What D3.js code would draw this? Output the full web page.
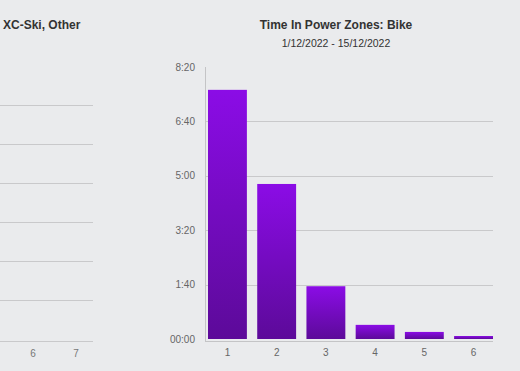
<!DOCTYPE html>
<html>
<head>
<meta charset="utf-8">
<script src="https://cdn.jsdelivr.net/npm/d3@7"></script>
<style>
  html, body { margin: 0; padding: 0; background: #eaebed; }
  svg { display: block; font-family: "Liberation Sans", Arial, sans-serif; }
</style>
</head>
<body>
<div id="chart"></div>
<script>
// zones and time spent in each one (minutes)
const zones = ["1", "2", "3", "4", "5", "6"];
const minutesInZone = [458, 285, 97, 26, 13, 5.5];
const yTicks = [0, 100, 200, 300, 400, 500];
const yTickLabels = ["00:00", "1:40", "3:20", "5:00", "6:40", "8:20"];

// partial neighbour chart on the left
const leftTitle = "XC-Ski, Other";
const leftTicks = ["6", "7"];
const leftGrid = [0, 1, 2, 3, 4, 5];

const title = "Time In Power Zones: Bike";
const subtitle = "1/12/2022 - 15/12/2022";

const width = 520, height = 371;
const svg = d3.select("#chart").append("svg")
  .attr("width", width)
  .attr("height", height);

const defs = svg.append("defs");
const grad = defs.append("linearGradient")
  .attr("id", "barFill")
  .attr("x1", 0).attr("y1", 0).attr("x2", 0).attr("y2", 1);
grad.append("stop").attr("offset", "0%").attr("stop-color", "#8b0ce6");
grad.append("stop").attr("offset", "100%").attr("stop-color", "#5c0a99");

// --- left (cut off) chart ---
const leftY = d3.scaleLinear().domain([0, 5]).range([300, 105]);
svg.append("g")
  .selectAll("line")
  .data(leftGrid)
  .enter().append("line")
  .attr("x1", 0).attr("x2", 93)
  .attr("y1", d => Math.round(leftY(d)) + 0.5)
  .attr("y2", d => Math.round(leftY(d)) + 0.5)
  .attr("stroke", "#c9c9cb");
svg.append("line")
  .attr("x1", 0).attr("x2", 93)
  .attr("y1", 341.5).attr("y2", 341.5)
  .attr("stroke", "#c9c9cb");
const leftX = d3.scalePoint().domain(leftTicks).range([33, 76]);
svg.append("g").selectAll("text")
  .data(leftTicks)
  .enter().append("text")
  .attr("x", d => leftX(d))
  .attr("y", 357)
  .attr("text-anchor", "middle")
  .attr("font-size", 10)
  .attr("fill", "#777")
  .text(d => d);
svg.append("text")
  .attr("x", 3).attr("y", 29)
  .attr("font-size", 12)
  .attr("font-weight", "bold")
  .attr("fill", "#333")
  .text(leftTitle);

// --- main chart ---
const x = d3.scaleBand()
  .domain(zones)
  .range([208, 493])
  .paddingInner(0.21)
  .paddingOuter(0);

const y = d3.scaleLinear()
  .domain([0, 500])
  .range([339, 67]);

svg.append("text")
  .attr("x", 336).attr("y", 29)
  .attr("text-anchor", "middle")
  .attr("font-size", 12)
  .attr("font-weight", "bold")
  .attr("fill", "#333")
  .text(title);
svg.append("text")
  .attr("x", 336).attr("y", 47)
  .attr("text-anchor", "middle")
  .attr("font-size", 10.5)
  .attr("fill", "#333")
  .text(subtitle);

// gridlines (top one not drawn)
svg.append("g")
  .selectAll("line")
  .data(yTicks.filter(t => t > 0 && t < 500))
  .enter().append("line")
  .attr("x1", 206).attr("x2", 493)
  .attr("y1", d => Math.round(y(d)) + 0.5)
  .attr("y2", d => Math.round(y(d)) + 0.5)
  .attr("stroke", "#c9c9cb");

// axes lines
svg.append("line")
  .attr("x1", 205.5).attr("x2", 205.5)
  .attr("y1", 67).attr("y2", 341.5)
  .attr("stroke", "#c4c4c6");
svg.append("line")
  .attr("x1", 205).attr("x2", 493)
  .attr("y1", 341.5).attr("y2", 341.5)
  .attr("stroke", "#c4c4c6");

// y tick labels
svg.append("g")
  .selectAll("text")
  .data(yTicks)
  .enter().append("text")
  .attr("x", 195)
  .attr("y", d => y(d) + 3.5)
  .attr("text-anchor", "end")
  .attr("font-size", 10)
  .attr("fill", "#666")
  .text((d, i) => yTickLabels[i]);

// bars
svg.append("g")
  .selectAll("rect")
  .data(zones)
  .enter().append("rect")
  .attr("x", d => x(d))
  .attr("y", (d, i) => y(minutesInZone[i]))
  .attr("width", x.bandwidth())
  .attr("height", (d, i) => y(0) - y(minutesInZone[i]))
  .attr("fill", "url(#barFill)");

// x tick labels
svg.append("g")
  .selectAll("text")
  .data(zones)
  .enter().append("text")
  .attr("x", d => x(d) + x.bandwidth() / 2)
  .attr("y", 356)
  .attr("text-anchor", "middle")
  .attr("font-size", 10)
  .attr("fill", "#666")
  .text(d => d);
</script>
</body>
</html>
